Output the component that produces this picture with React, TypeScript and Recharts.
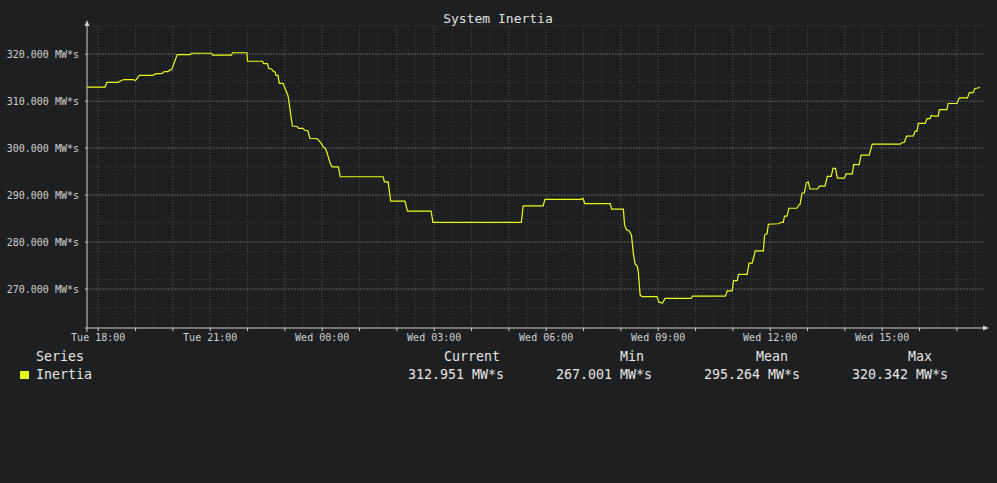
import { LineChart, Line, XAxis, YAxis, CartesianGrid } from 'recharts';

// minutes since Tue 00:00, inertia in MW*s
const inertiaSamples: [number, number][] = [
  [1062, 313.0], [1091, 313.0], [1094, 314.0], [1112, 314.0], [1117, 314.4], [1122, 314.6],
  [1136, 314.6], [1140, 314.4], [1146, 315.5], [1168, 315.5], [1172, 315.8], [1183, 315.9],
  [1186, 316.3], [1192, 316.3], [1195, 316.6], [1198, 316.7], [1207, 319.9], [1228, 319.9],
  [1230, 320.2], [1262, 320.2], [1264, 319.8], [1294, 319.8], [1296, 320.3], [1319, 320.3],
  [1320, 318.5], [1344, 318.5], [1346, 318.0], [1352, 318.0], [1354, 317.0], [1359, 316.8],
  [1361, 316.4], [1364, 316.2], [1366, 315.5], [1369, 315.5], [1371, 313.8], [1377, 313.8],
  [1381, 312.5], [1385, 311.2], [1387, 309.5], [1389, 307.5], [1392, 304.7], [1400, 304.6],
  [1402, 304.2], [1409, 304.2], [1412, 303.8], [1417, 303.7], [1420, 302.1], [1432, 302.0],
  [1435, 301.6], [1439, 300.9], [1442, 300.2], [1445, 300.0], [1448, 298.9], [1453, 296.7],
  [1456, 296.0], [1466, 296.0], [1469, 293.9], [1538, 293.9], [1540, 292.8], [1546, 292.8],
  [1550, 288.7], [1573, 288.7], [1577, 286.6], [1615, 286.6], [1618, 284.2], [1760, 284.2],
  [1763, 287.7], [1795, 287.7], [1798, 289.1], [1856, 289.1], [1859, 289.3], [1862, 288.2],
  [1903, 288.2], [1905, 287.0], [1924, 287.0], [1926, 283.6], [1929, 282.6], [1933, 282.4],
  [1937, 281.5], [1940, 277.6], [1943, 275.3], [1946, 275.0], [1948, 273.7], [1951, 268.7],
  [1954, 268.4], [1978, 268.4], [1981, 267.2], [1987, 267.0], [1991, 268.0], [2033, 268.0],
  [2035, 268.5], [2088, 268.5], [2091, 269.6], [2099, 269.6], [2101, 271.8], [2107, 271.8],
  [2109, 273.1], [2123, 273.1], [2126, 275.5], [2131, 275.5], [2133, 276.5], [2136, 278.1],
  [2149, 278.1], [2151, 281.5], [2155, 281.8], [2157, 283.8], [2173, 283.9], [2178, 284.2],
  [2181, 284.2], [2183, 285.5], [2187, 285.5], [2190, 287.2], [2203, 287.2], [2206, 287.9],
  [2208, 288.0], [2211, 290.4], [2215, 290.5], [2218, 292.6], [2221, 292.8], [2224, 291.3],
  [2236, 291.3], [2239, 291.9], [2248, 291.9], [2252, 294.0], [2258, 294.0], [2261, 295.7],
  [2265, 295.7], [2268, 293.6], [2279, 293.6], [2282, 294.5], [2292, 294.5], [2294, 296.5],
  [2303, 296.5], [2306, 298.5], [2319, 298.5], [2324, 300.85], [2369, 300.85], [2371, 301.1],
  [2376, 301.3], [2379, 302.55], [2390, 302.6], [2393, 303.6], [2396, 303.6], [2398, 305.25],
  [2409, 305.25], [2412, 306.3], [2417, 306.3], [2419, 307.0], [2422, 306.8], [2430, 306.8],
  [2432, 308.2], [2444, 308.2], [2446, 309.5], [2460, 309.5], [2464, 310.7], [2477, 310.7],
  [2480, 311.8], [2486, 311.8], [2489, 312.7], [2494, 312.8], [2497, 312.95],
];

const xLabelTimes = [1080, 1260, 1440, 1620, 1800, 1980, 2160, 2340];
const xLabels = ['Tue 18:00', 'Tue 21:00', 'Wed 00:00', 'Wed 03:00', 'Wed 06:00', 'Wed 09:00', 'Wed 12:00', 'Wed 15:00'];
const yTicks = [270, 280, 290, 300, 310, 320];

const statHeaders = ['Current', 'Min', 'Mean', 'Max'];
const statValues = ['312.951 MW*s', '267.001 MW*s', '295.264 MW*s', '320.342 MW*s'];

const X_DOMAIN = [1062, 2502];
const Y_DOMAIN = [261.7, 326];

const hourTicks: number[] = [];
for (let t = 1080; t <= 2460; t += 60) hourTicks.push(t);
const halfHourTicks: number[] = [];
for (let t = 1080; t <= 2490; t += 30) halfHourTicks.push(t);
const minorY: number[] = [];
for (let v = 262; v <= 326; v += 2) minorY.push(v);

const FONT = '"DejaVu Sans Mono", monospace';
const BG = '#1e1f21';
const AXIS = '#cfcfcf';
const LINE = '#e4ff1a';
const TICK_TEXT = '#d0d0d0';

const data = inertiaSamples.map(([t, v]) => ({ t, v }));

const fmtX = (t: number) => {
  const i = xLabelTimes.indexOf(t);
  return i >= 0 ? xLabels[i] : '';
};

const YTick = ({ x, y, payload }: any) => (
  <text x={x} y={y} dy="0.355em" textAnchor="end" fill={TICK_TEXT} fontSize={10} fontFamily={FONT}>
    {`${Number(payload.value).toFixed(3)} MW*s`}
  </text>
);

const XTick = ({ x, y, payload }: any) => (
  <text x={x} y={y} dy="0.71em" textAnchor="middle" fill={TICK_TEXT} fontSize={10} fontFamily={FONT}>
    {fmtX(payload.value)}
  </text>
);

// legend column centres (header, value)
const headerX = [472, 632, 772, 920];
const valueX = [456, 604, 752, 900];

export default function App() {
  return (
    <div style={{ position: 'absolute', left: 0, top: 0, width: 997, height: 483, background: BG, overflow: 'hidden' }}>
      <LineChart width={997} height={483} data={data} margin={{ top: 26, right: 14, left: 0, bottom: 125 }}>
        <CartesianGrid horizontalValues={minorY} verticalValues={halfHourTicks} stroke="#37383a" strokeDasharray="1 2" />
        <CartesianGrid verticalValues={hourTicks} horizontal={false} stroke="#4a4b4d" strokeDasharray="1 2" />
        <CartesianGrid horizontalValues={yTicks} vertical={false} stroke="#5c5d5f" strokeDasharray="2 1" />
        <XAxis type="number" dataKey="t" domain={X_DOMAIN} allowDataOverflow ticks={hourTicks} interval={0}
          axisLine={false} tickSize={3} tickMargin={3} height={30}
          tickLine={{ stroke: AXIS }} tick={<XTick />} />
        <YAxis type="number" domain={Y_DOMAIN} allowDataOverflow ticks={yTicks} width={87}
          axisLine={false} tickSize={2} tickMargin={6}
          tickLine={{ stroke: AXIS }} tick={<YTick />} />
        <Line type="linear" dataKey="v" stroke={LINE} strokeWidth={1.2} dot={false} isAnimationActive={false} />
      </LineChart>
      <svg width={997} height={483} style={{ position: 'absolute', left: 0, top: 0, pointerEvents: 'none' }}>
        <text x={498} y={23} textAnchor="middle" fill="#e0e0e0" fontSize={13} fontFamily={FONT}>System Inertia</text>
        <line x1={87} y1={332} x2={87} y2={24} stroke={AXIS} strokeWidth={1} />
        <polygon points="87,20 84.5,26 89.5,26" fill={AXIS} />
        <line x1={85} y1={328} x2={985} y2={328} stroke={AXIS} strokeWidth={1} />
        <polygon points="989,328 983,325.5 983,330.5" fill={AXIS} />
        <text x={36} y={361} fill="#e6e6e6" fontSize={13.3} fontFamily={FONT}>Series</text>
        <rect x={20} y={371} width={9} height={8} fill={LINE} />
        <text x={36} y={379} fill="#e6e6e6" fontSize={13.3} fontFamily={FONT}>Inertia</text>
        {statHeaders.map((h, i) => (
          <text key={h} x={headerX[i]} y={361} textAnchor="middle" fill="#e6e6e6" fontSize={13.3} fontFamily={FONT}>{h}</text>
        ))}
        {statValues.map((s, i) => (
          <text key={s} x={valueX[i]} y={379} textAnchor="middle" fill="#e6e6e6" fontSize={13.3} fontFamily={FONT}>{s}</text>
        ))}
      </svg>
    </div>
  );
}
